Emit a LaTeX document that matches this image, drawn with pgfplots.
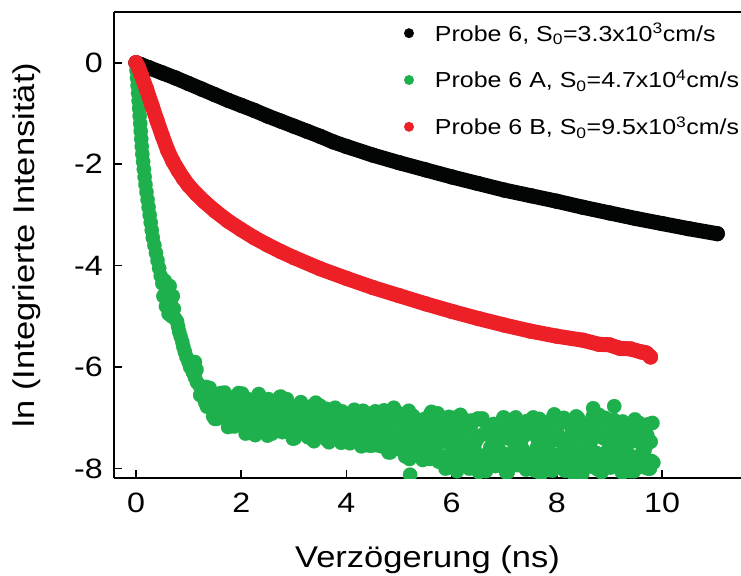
\documentclass[border=0pt]{standalone}
\usepackage{pgfplots}
\pgfplotsset{compat=1.18}
\usepackage{fontspec}
\setmainfont{Liberation Sans}[FakeStretch=1.15]
\definecolor{pgreen}{RGB}{30,176,76}
\definecolor{pred}{RGB}{237,32,39}
\definecolor{pblack}{RGB}{3,5,5}
\begin{document}
\begin{tikzpicture}
\begin{axis}[
  scale only axis, width=627pt, height=466pt,
  xmin=-0.418, xmax=11.5, ymin=-8.185, ymax=1.0,
  axis lines=left, axis line style={-, line width=1.6pt, black},
  tick align=inside, major tick length=8pt, tick style={line width=1.6pt, black},
  xtick={0,2,4,6,8,10}, xticklabels={0,2,4,6,8,10},
  ytick={-8,-6,-4,-2,0}, yticklabels={-8,-6,-4,-2,0},
  minor tick num=0,
  xticklabel style={font=\fontsize{28}{30}\selectfont, inner sep=0pt, anchor=north, yshift=-15pt},
  yticklabel style={font=\fontsize{28}{30}\selectfont, inner sep=0pt, anchor=east, xshift=-11pt},
  xlabel={Verzögerung (ns)}, ylabel={ln (Integrierte Intensität)},
  xlabel style={font=\fontsize{30}{32}\selectfont, at={([yshift=-89pt]axis description cs:0.5,0)}, anchor=base},
  ylabel style={font=\fontsize{30}{32}\selectfont, at={([xshift=-79pt]axis description cs:0,0.5)}, anchor=base, rotate=0},
  clip marker paths=true,
  legend style={at={(rel axis cs:0.4625,0.9717)}, anchor=north west, draw=none, fill=none,
    inner sep=0pt, outer sep=0pt, font=\fontsize{21.7}{24}\selectfont,
    row sep=24.8pt, column sep=21pt, cells={anchor=base west},
    nodes={inner sep=0pt, text height=16pt, text depth=6pt}},
  legend image code/.code={\fill[draw=none, line width=0pt] (0pt,8pt) circle (5pt);},
]
\addplot[color=pblack, line width=15pt, line join=round, line cap=round, mark=*, mark size=7.5pt, mark options={line width=0.1pt}] table {
0 0
0.1 -0.04
0.25 -0.1
0.5 -0.2
0.75 -0.30
1.0 -0.41
1.25 -0.52
1.5 -0.63
1.75 -0.74
2.0 -0.84
2.25 -0.94
2.5 -1.05
2.75 -1.15
3.0 -1.25
3.25 -1.35
3.5 -1.45
3.75 -1.56
4.0 -1.65
4.5 -1.82
5.0 -1.97
5.5 -2.11
6.0 -2.25
6.5 -2.38
7.0 -2.51
7.5 -2.62
8.0 -2.73
8.5 -2.85
9.0 -2.96
9.5 -3.07
10.0 -3.17
10.5 -3.27
11.05 -3.37
};
\addlegendentry{Probe 6, S\textsubscript{0}=3.3x10\textsuperscript{3}cm/s}
\addplot[color=pgreen, only marks, mark=*, mark size=7.2pt, mark options={line width=0.1pt}] table {
0 0
0.01 -0.15
0.02 -0.3
0.03 -0.45
0.04 -0.6
0.05 -0.75
0.06 -0.9
0.07 -1.05
0.08 -1.2
0.09 -1.35
0.1 -1.5
0.11 -1.65
0.12 -1.8
0.135 -1.95
0.15 -2.1
0.165 -2.25
0.18 -2.4
0.2 -2.55
0.22 -2.7
0.24 -2.85
0.26 -3.0
0.28 -3.15
0.3 -3.3
0.32 -3.45
0.35 -3.6
0.38 -3.75
0.41 -3.9
0.44 -4.05
0.47 -4.2
0.5 -4.35
0.52 -4.6
0.55 -4.3
0.57 -4.8
0.6 -4.5
0.62 -4.95
0.64 -4.4
0.66 -4.7
0.68 -5.0
0.7 -4.6
0.72 -4.85
0.75 -5.05
0.78 -5.1
0.8 -5.2
0.82 -5.3
0.85 -5.4
0.88 -5.5
0.9 -5.6
0.93 -5.7
0.96 -5.8
1.0 -5.9
1.03 -6.0
1.08 -6.1
1.12 -5.9
1.12 -6.2
1.15 -6.05
1.16 -6.3
1.2 -6.35
1.22 -6.55
1.25 -6.4
1.28 -6.6
1.30 -6.48
1.35 -6.78
1.40 -6.41
1.45 -6.76
1.50 -7.02
1.55 -6.61
1.60 -6.75
1.65 -6.96
1.70 -6.54
1.75 -7.18
1.80 -6.62
1.85 -6.97
1.90 -6.87
1.95 -6.51
2.00 -7.14
2.05 -6.75
2.10 -7.25
2.15 -6.84
2.20 -7.09
2.25 -6.65
2.30 -6.98
2.35 -6.60
2.40 -7.25
2.45 -6.81
2.50 -7.35
2.55 -6.74
2.60 -7.08
2.65 -6.92
2.70 -7.25
2.75 -6.58
2.80 -7.18
2.85 -6.69
2.90 -7.07
2.95 -6.83
3.00 -7.36
3.05 -6.92
3.10 -7.26
3.15 -6.78
3.20 -7.19
3.25 -7.04
3.30 -6.83
3.35 -7.42
3.40 -7.00
3.45 -7.24
3.50 -6.76
3.55 -7.14
3.60 -6.93
3.65 -7.37
3.70 -7.13
3.75 -6.85
3.80 -7.35
3.85 -7.04
3.90 -7.49
3.95 -6.93
4.00 -7.24
4.05 -7.04
4.10 -7.46
4.15 -6.84
4.20 -7.30
4.25 -7.17
4.30 -7.39
4.35 -7.12
4.40 -7.54
4.45 -6.98
4.50 -7.25
4.55 -6.87
4.60 -7.53
4.65 -7.07
4.70 -7.39
4.75 -7.20
4.80 -7.68
4.85 -7.04
4.90 -7.35
4.90 -6.80
4.95 -6.92
5.00 -7.57
5.05 -7.15
5.10 -7.50
5.15 -6.97
5.20 -7.81
5.21 -8.12
5.25 -7.32
5.30 -7.13
5.35 -7.68
5.40 -7.32
5.45 -7.83
5.50 -7.03
5.55 -7.50
5.60 -6.91
5.65 -7.65
5.70 -7.26
5.75 -7.86
5.80 -7.11
5.85 -7.47
5.90 -7.76
5.95 -6.98
6.00 -7.64
6.05 -7.36
6.10 -8.05
6.15 -7.20
6.20 -7.57
6.25 -7.04
6.30 -7.69
6.35 -7.13
6.40 -7.92
6.45 -7.48
6.50 -7.01
6.55 -7.79
6.60 -7.32
6.65 -8.05
6.70 -7.22
6.75 -7.59
6.80 -7.12
6.85 -7.87
6.90 -7.46
6.95 -7.68
7.00 -7.00
7.05 -8.02
7.10 -7.33
7.15 -7.80
7.20 -7.41
7.25 -7.93
7.30 -7.15
7.35 -7.62
7.40 -7.99
7.45 -7.26
7.50 -7.76
7.55 -6.99
7.60 -7.87
7.65 -7.42
7.70 -8.10
7.75 -7.19
7.80 -7.53
7.85 -7.70
7.90 -7.04
7.95 -7.92
7.95 -6.93
8.00 -7.29
8.05 -7.81
8.10 -7.46
8.15 -8.04
8.20 -7.06
8.25 -7.64
8.30 -7.43
8.35 -7.84
8.40 -7.00
8.45 -8.01
8.50 -7.32
8.55 -7.58
8.60 -7.14
8.65 -7.96
8.69 -6.81
8.70 -7.23
8.75 -7.69
8.80 -6.94
8.85 -8.07
8.90 -7.38
8.95 -7.78
9.00 -7.09
9.05 -7.90
9.09 -6.77
9.10 -7.50
9.15 -7.22
9.20 -7.68
9.25 -7.07
9.30 -7.88
9.35 -7.34
9.40 -8.05
9.45 -7.46
9.50 -7.15
9.55 -7.76
9.60 -7.27
9.65 -7.97
9.70 -7.54
9.75 -7.12
9.80 -7.85
1.317 -6.70
1.367 -6.52
1.417 -6.65
1.467 -6.97
1.517 -6.57
1.567 -6.89
1.617 -6.51
1.667 -6.86
1.717 -6.67
1.767 -7.07
1.817 -6.80
1.867 -7.17
1.917 -6.59
1.967 -7.02
2.017 -6.52
2.067 -7.13
2.117 -6.81
2.167 -6.98
2.217 -6.66
2.267 -7.34
2.317 -6.75
2.367 -7.25
2.417 -6.89
2.467 -7.14
2.517 -6.63
2.567 -7.07
2.617 -6.75
2.667 -7.25
2.717 -6.84
2.767 -7.01
2.817 -7.25
2.867 -6.63
2.917 -7.09
2.967 -6.85
3.017 -7.40
3.067 -6.99
3.117 -7.24
3.167 -6.76
3.217 -7.05
3.267 -7.38
3.317 -6.83
3.367 -7.19
3.417 -6.70
3.467 -7.35
3.517 -7.02
3.567 -7.25
3.617 -6.82
3.667 -7.48
3.717 -7.02
3.767 -7.17
3.817 -6.97
3.867 -7.23
3.917 -6.87
3.967 -7.38
4.017 -7.15
4.067 -7.50
4.117 -6.94
4.167 -7.35
4.217 -7.09
4.267 -7.26
4.317 -6.86
4.367 -7.42
4.417 -7.17
4.467 -7.55
4.517 -7.00
4.567 -7.38
4.617 -7.09
4.667 -7.56
4.717 -6.85
4.767 -7.29
4.817 -7.47
4.867 -7.00
4.917 -7.33
4.967 -6.89
5.017 -7.62
5.067 -7.22
5.117 -7.76
5.167 -7.11
5.217 -7.48
5.267 -6.96
5.317 -7.64
5.367 -7.33
5.417 -7.09
5.467 -7.80
5.517 -7.23
5.567 -7.50
5.617 -6.88
5.667 -7.67
5.717 -7.34
5.767 -7.86
5.817 -7.24
5.867 -7.80
5.917 -7.04
5.967 -7.49
6.017 -7.98
6.067 -7.19
6.117 -7.68
6.167 -6.94
6.217 -7.80
6.267 -7.43
6.317 -7.92
6.367 -7.16
6.417 -7.59
6.467 -7.37
6.517 -8.07
6.567 -7.04
6.617 -7.74
6.667 -7.27
6.717 -7.67
6.767 -7.14
6.817 -7.92
6.867 -7.46
6.917 -7.10
6.967 -7.82
7.017 -7.33
7.067 -8.07
7.117 -7.22
7.167 -7.66
7.217 -6.99
7.267 -7.88
7.317 -7.54
7.367 -7.37
7.417 -8.02
7.467 -7.14
7.517 -7.76
7.567 -7.25
7.617 -7.59
7.667 -7.02
7.717 -7.99
7.767 -7.41
7.817 -7.61
7.867 -7.21
7.917 -8.04
7.967 -7.03
8.017 -7.72
8.067 -7.46
8.117 -7.90
8.167 -7.09
8.217 -7.81
8.267 -7.35
8.317 -8.10
8.367 -6.97
8.417 -7.67
8.467 -7.26
8.517 -7.96
8.567 -7.14
8.617 -7.55
8.667 -7.84
8.717 -7.38
8.767 -8.01
8.817 -7.17
8.867 -7.75
8.917 -7.00
8.967 -7.64
9.017 -7.98
9.067 -7.32
9.117 -7.87
9.167 -7.11
9.217 -7.60
9.267 -8.07
9.317 -7.28
9.367 -7.72
9.417 -7.18
9.467 -8.05
9.517 -7.46
9.567 -7.10
9.617 -7.84
9.667 -7.64
9.717 -7.34
9.767 -8.00
9.817 -7.10
1.334 -6.39
1.384 -6.69
1.434 -6.64
1.484 -6.53
1.534 -7.02
1.584 -6.70
1.634 -6.91
1.684 -6.50
1.734 -6.84
1.784 -6.65
1.834 -7.09
1.884 -6.86
1.934 -6.57
1.984 -7.12
2.034 -6.78
2.084 -7.31
2.134 -6.63
2.184 -7.00
2.234 -6.76
2.284 -7.25
2.334 -6.53
2.384 -7.06
2.434 -6.91
2.484 -7.16
2.534 -6.86
2.584 -7.31
2.634 -6.71
2.684 -7.00
2.734 -6.59
2.784 -7.28
2.834 -6.81
2.884 -7.13
2.934 -6.95
2.984 -7.41
3.034 -6.79
3.084 -7.09
3.134 -6.69
3.184 -7.29
3.234 -6.91
3.284 -7.22
3.334 -6.77
3.384 -7.46
3.434 -7.06
3.484 -6.92
3.534 -7.34
3.584 -7.07
3.634 -7.44
3.684 -6.86
3.734 -7.20
3.784 -6.80
3.834 -7.30
3.884 -7.04
3.934 -7.43
3.984 -6.96
4.034 -7.19
4.084 -7.36
4.134 -6.89
4.184 -7.29
4.234 -7.13
4.284 -7.56
4.334 -7.03
4.384 -7.27
4.434 -6.92
4.484 -7.36
4.534 -6.98
4.584 -7.54
4.634 -7.23
4.684 -6.89
4.734 -7.47
4.784 -7.12
4.834 -7.68
4.884 -7.04
4.934 -7.33
4.984 -6.96
5.034 -7.57
5.084 -7.24
5.134 -7.43
5.184 -6.86
5.234 -7.74
5.284 -7.15
5.334 -7.57
5.384 -7.24
5.434 -7.72
5.484 -7.02
5.534 -7.46
5.584 -7.81
5.634 -7.14
5.684 -7.62
5.734 -6.91
5.784 -7.75
5.834 -7.33
5.884 -8.00
5.934 -7.12
5.984 -7.46
6.034 -7.64
6.084 -6.99
6.134 -7.88
6.184 -7.26
6.234 -7.77
6.284 -7.43
6.334 -8.00
6.384 -7.05
6.434 -7.61
6.484 -7.42
6.534 -7.82
6.584 -7.01
6.634 -7.99
6.684 -7.33
6.734 -7.58
6.784 -7.17
6.834 -7.95
6.884 -7.26
6.934 -7.71
6.984 -6.99
7.034 -8.07
7.084 -7.41
7.134 -7.80
7.184 -7.13
7.234 -7.91
7.284 -7.51
7.334 -7.23
7.384 -7.68
7.434 -7.06
7.484 -7.87
7.534 -7.31
7.584 -8.04
7.634 -7.42
7.684 -7.07
7.734 -7.73
7.784 -7.18
7.834 -7.96
7.884 -7.47
7.934 -6.97
7.984 -7.81
8.034 -7.35
8.084 -7.93
8.134 -7.00
8.184 -7.64
8.234 -8.04
8.284 -7.23
8.334 -7.46
8.384 -7.81
8.434 -7.06
8.484 -8.10
8.534 -7.17
8.584 -7.69
8.634 -7.52
8.684 -6.97
8.734 -7.87
8.784 -7.29
8.834 -8.01
8.884 -7.40
8.934 -7.75
8.984 -7.11
9.034 -7.58
9.084 -7.04
9.134 -7.96
9.184 -7.34
9.234 -8.07
9.284 -7.24
9.334 -7.69
9.384 -7.47
9.434 -7.91
9.484 -7.03
9.534 -7.81
9.584 -7.18
9.634 -7.66
9.684 -7.35
9.734 -8.00
9.784 -7.47
9.834 -7.88
};
\addlegendentry{Probe 6 A, S\textsubscript{0}=4.7x10\textsuperscript{4}cm/s}
\addplot[color=pred, line width=15pt, line join=round, line cap=round, mark=*, mark size=7.5pt, mark options={line width=0.1pt}] table {
0 0
0.05 -0.1
0.1 -0.24
0.2 -0.52
0.3 -0.83
0.4 -1.14
0.5 -1.44
0.6 -1.72
0.7 -1.94
0.8 -2.12
0.9 -2.28
1.0 -2.42
1.15 -2.59
1.3 -2.74
1.5 -2.92
1.75 -3.12
2.0 -3.29
2.25 -3.45
2.5 -3.59
2.75 -3.72
3.0 -3.84
3.5 -4.06
4.0 -4.25
4.5 -4.43
5.0 -4.59
5.5 -4.75
6.0 -4.90
6.5 -5.04
7.0 -5.17
7.5 -5.29
8.0 -5.39
8.5 -5.47
8.8 -5.55
9.0 -5.56
9.2 -5.63
9.4 -5.64
9.6 -5.70
9.7 -5.72
9.78 -5.80
};
\addlegendentry{Probe 6 B, S\textsubscript{0}=9.5x10\textsuperscript{3}cm/s}
\coordinate (TL) at (rel axis cs:0,1);
\coordinate (TR) at (rel axis cs:1,1);
\coordinate (BR) at (rel axis cs:1,0);
\end{axis}
\draw[line width=1.6pt, black] (TL) -- (TR);
\pgfresetboundingbox
\path ([xshift=-114pt,yshift=12pt]TL) rectangle ([yshift=-97pt]BR);
\end{tikzpicture}
\end{document}
